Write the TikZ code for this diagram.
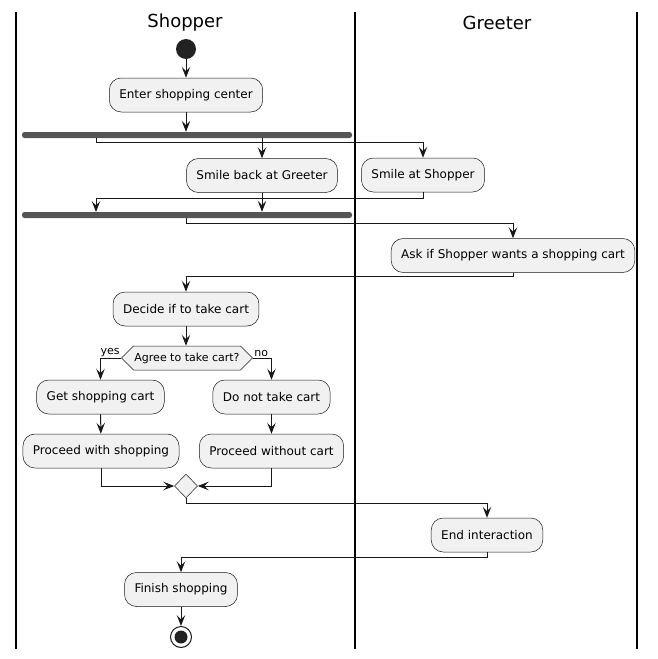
\documentclass[tikz,border=0pt]{standalone}
\usepackage{fontspec}
\setmainfont{DejaVu Sans}
\usetikzlibrary{arrows.meta,shapes.geometric,shapes.symbols}
\definecolor{boxfill}{HTML}{F1F1F1}
\definecolor{linec}{HTML}{181818}
\definecolor{barc}{HTML}{555555}
\definecolor{dotc}{HTML}{222222}

\tikzset{
  act/.style={draw=linec, line width=0.5pt, fill=boxfill, rounded corners=12pt,
    minimum height=34pt, inner xsep=10pt, font=\fontsize{12}{14}\selectfont},
  bar/.style={fill=barc, rounded corners=2.5pt, minimum width=330pt,
    minimum height=6pt, inner sep=0pt},
  flow/.style={draw=linec, line width=1pt, -{Stealth[length=11pt,width=8.5pt,inset=4.5pt]}},
  lane/.style={line width=1.5pt},
}

\begin{document}
\begin{tikzpicture}[x=1pt,y=-1pt]
  \useasboundingbox (0,0) rectangle (657,659);

  % Draw the swimlanes
  \draw[lane] (16,12) -- (16,649);
  \draw[lane] (355,12) -- (355,649);
  \draw[lane] (637,12) -- (637,649);
  \node[font=\fontsize{18}{20}\selectfont] (shopperT) at (185,23) {Shopper};
  \node[font=\fontsize{18}{20}\selectfont] (greeterT) at (497,23) {Greeter};

  % Draw the activities
  \node[circle, fill=dotc, minimum size=20pt, inner sep=0pt] (start) at (186,49) {};
  \node[act] (enter) at (186,95) {Enter shopping center};
  \node[bar] (fork1) at (187,135) {};
  \node[act] (smileB) at (262,175.5) {Smile back at Greeter};
  \node[act] (smileS) at (423,175) {Smile at Shopper};
  \node[bar] (fork2) at (187,215) {};
  \node[act] (ask) at (513,255.5) {Ask if Shopper wants a shopping cart};
  \node[act] (decide) at (186,309) {Decide if to take cart};

  \node[shape=signal, signal to=east and west, signal pointer angle=90,
    draw=linec, line width=0.5pt, fill=boxfill, minimum height=24pt,
    inner xsep=1pt, font=\fontsize{11}{13}\selectfont] (agree) at (187,358) {Agree to take cart?};

  \node[act] (get) at (100.5,397) {Get shopping cart};
  \node[act] (dont) at (271.5,397) {Do not take cart};
  \node[act] (procW) at (101,451) {Proceed with shopping};
  \node[act] (procWo) at (271.5,451) {Proceed without cart};
  \node[diamond, draw=linec, line width=0.5pt, fill=boxfill, minimum width=23pt,
    minimum height=24pt, inner sep=0pt] (merge) at (186,486) {};
  \node[act] (endI) at (487,535) {End interaction};
  \node[act] (finish) at (181,589.5) {Finish shopping};
  \node[circle, draw=linec, line width=1pt, minimum size=21pt, inner sep=0pt] (stop) at (181,637) {};
  \fill[dotc] (stop.center) circle (6.5);

  \coordinate (f1a) at (96,138);
  \coordinate (f2a) at (96,212);

  % Draw the flows
  \draw[flow] (start) -- (enter);
  \draw[flow] (enter) -- (enter |- fork1.north);
  \draw[flow] (fork1.south -| smileB) -- (smileB.north);
  \draw[flow] (f1a) -- ++(0,4) -| (smileS.north);
  \draw[flow] (smileB) -- (smileB |- fork2.north);
  \draw[flow] (smileS.south) -- ++(0,6) -| (f2a);
  \draw[flow] (fork2.south -| enter) -- ++(0,5) -| (ask.north);
  \draw[flow] (ask.south) -- ++(0,4) -| (decide.north);
  \draw[flow] (decide) -- (decide |- agree.north);
  \draw[flow] (agree.west) node[anchor=south east, inner sep=1pt, font=\fontsize{11}{13}\selectfont] {yes} -| (get.north);
  \draw[flow] (agree.east) node[anchor=south west, inner sep=1pt, font=\fontsize{11}{13}\selectfont] {no} -| (dont.north);
  \draw[flow] (get) -- (procW);
  \draw[flow] (dont) -- (procWo);
  \draw[flow] (procW.south) |- (merge.west);
  \draw[flow] (procWo.south) |- (merge.east);
  \draw[flow] (merge.south) -- ++(0,5) -| (endI.north);
  \draw[flow] (endI.south) -- ++(0,5) -| (finish.north);
  \draw[flow] (finish) -- (stop);
\end{tikzpicture}
\end{document}
